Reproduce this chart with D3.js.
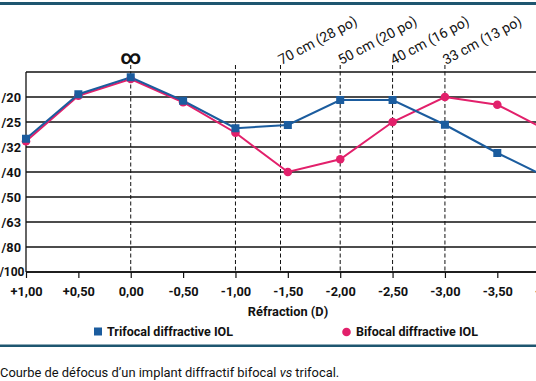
<!DOCTYPE html>
<html><head><meta charset="utf-8">
<script src="https://cdn.jsdelivr.net/npm/d3@7"></script>
<style>
html,body{margin:0;padding:0;background:#fff;overflow:hidden}
svg{display:block}
text{font-family:Roboto,"DejaVu Sans",sans-serif}
</style></head><body>
<svg id="c" width="536" height="381"></svg>
<script>
// Data
const refraction = [1.0, 0.5, 0.0, -0.5, -1.0, -1.5, -2.0, -2.5, -3.0, -3.5, -4.0];
const tickLabels = ["+1,00","+0,50","0,00","-0,50","-1,00","-1,50","-2,00","-2,50","-3,00","-3,50","-4,00"];
// visual acuity in logMAR (20/20 = 0)
const trifocal = [0.167, -0.011, -0.079, 0.015, 0.125, 0.112, 0.012, 0.012, 0.111, 0.224, 0.326];
const bifocal  = [0.177, -0.005, -0.072, 0.021, 0.143, 0.300, 0.249, 0.100, 0.000, 0.031, 0.138];
const acuityValues = [-0.1, 0, 0.1, 0.2, 0.3, 0.4, 0.5, 0.6, 0.7];
// labels as visible in the (cropped) reference
const acuityLabels = ["", "/20", "/25", "/32", "/40", "/50", "/63", "/80", "/100"];
const distanceD = [0.0, -1.0, -1.43, -2.0, -2.5, -3.0];
const distanceLabels = ["∞", "", "70 cm (28 po)", "50 cm (20 po)", "40 cm (16 po)", "33 cm (13 po)"];
const seriesNames = ["Trifocal diffractive IOL", "Bifocal diffractive IOL"];

const blue = "#1b5c9e", pink = "#e2206b", teal = "#1e5670";
const svg = d3.select("#c");
const x = d3.scaleLinear().domain([1, -3.5]).range([26, 497.3]);
const y = d3.scaleLinear().domain([-0.1, 0.7]).range([72, 272]);

// rules
svg.append("rect").attr("x",0).attr("y",2).attr("width",536).attr("height",3).attr("fill",teal);
svg.append("rect").attr("x",0).attr("y",344.5).attr("width",536).attr("height",2.5).attr("fill",teal);

// horizontal grid
svg.append("g").selectAll("line").data(acuityValues).join("line")
  .attr("x1",26).attr("x2",536).attr("y1",d=>y(d)).attr("y2",d=>y(d))
  .attr("stroke","#111").attr("stroke-width",1.3);
// y labels
svg.append("g").selectAll("text").data(acuityValues).join("text")
  .attr("x",d=>d>=0.7?24.5:21).attr("y",d=>y(d)).attr("dy","0.36em").attr("text-anchor","end")
  .attr("font-size",d=>d>=0.7?12:12.8).attr("font-weight",700).attr("fill","#111")
  .text((d,i)=>acuityLabels[i]);
// left axis
svg.append("line").attr("x1",26).attr("x2",26).attr("y1",72).attr("y2",272).attr("stroke","#111").attr("stroke-width",1.3);

// dashed verticals
svg.append("g").selectAll("line").data(distanceD).join("line")
  .attr("x1",d=>x(d)).attr("x2",d=>x(d)).attr("y1",65).attr("y2",272)
  .attr("stroke","#111").attr("stroke-width",1).attr("stroke-dasharray","4,2.5");
// distance labels
svg.append("text").attr("x",x(0)).attr("y",64).attr("text-anchor","middle")
  .attr("font-size",20).attr("font-family","DejaVu Sans").attr("font-weight",700)
  .attr("fill","#111").text(distanceLabels[0]);
distanceD.forEach((d,i)=>{
  if(i<2) return;
  svg.append("text").attr("transform",`translate(${x(d)+1},${65}) rotate(-28)`)
    .attr("font-size",14).attr("fill","#111").text(distanceLabels[i]);
});

// bottom axis
const xAxis = d3.axisBottom(x).tickValues(refraction).tickSize(6).tickFormat((d,i)=>tickLabels[i]);
const gx = svg.append("g").attr("transform","translate(0,272)").call(xAxis);
gx.select(".domain").remove();
gx.append("line").attr("x1",26).attr("x2",536).attr("stroke","#111").attr("stroke-width",1.3);
gx.selectAll(".tick line").attr("stroke","#111").attr("stroke-width",1.2);
gx.selectAll(".tick text").attr("y",15).attr("font-size",12.8).attr("font-weight",700)
  .attr("fill","#111").attr("font-family","Roboto,sans-serif");

svg.append("text").attr("x",288).attr("y",316).attr("text-anchor","middle")
  .attr("font-size",12.8).attr("font-weight",700).attr("fill","#111").text("Réfraction (D)");

// lines
const line = d3.line().x((d,i)=>x(refraction[i])).y(d=>y(d));
svg.append("path").datum(bifocal).attr("d",line).attr("fill","none").attr("stroke",pink).attr("stroke-width",2);
svg.append("path").datum(trifocal).attr("d",line).attr("fill","none").attr("stroke",blue).attr("stroke-width",2);
svg.append("g").selectAll("circle").data(bifocal).join("circle")
  .attr("cx",(d,i)=>x(refraction[i])).attr("cy",d=>y(d)).attr("r",4.3).attr("fill",pink);
svg.append("g").selectAll("rect").data(trifocal).join("rect")
  .attr("x",(d,i)=>x(refraction[i])-4).attr("y",d=>y(d)-4).attr("width",8).attr("height",8).attr("fill",blue);

// legend
svg.append("rect").attr("x",94).attr("y",327.5).attr("width",8).attr("height",8).attr("fill",blue);
svg.append("text").attr("x",107).attr("y",336).attr("font-size",12.5).attr("font-weight",700).attr("fill","#111").text(seriesNames[0]);
svg.append("circle").attr("cx",346.5).attr("cy",332).attr("r",4.3).attr("fill",pink);
svg.append("text").attr("x",356).attr("y",336).attr("font-size",12.5).attr("font-weight",700).attr("fill","#111").text(seriesNames[1]);

// caption
const cap = svg.append("text").attr("x",0).attr("y",377).attr("font-size",12.9).attr("fill","#111");
cap.append("tspan").text("Courbe de défocus d’un implant diffractif bifocal ");
cap.append("tspan").attr("font-style","italic").text("vs");
cap.append("tspan").text(" trifocal.");
</script>
</body></html>
